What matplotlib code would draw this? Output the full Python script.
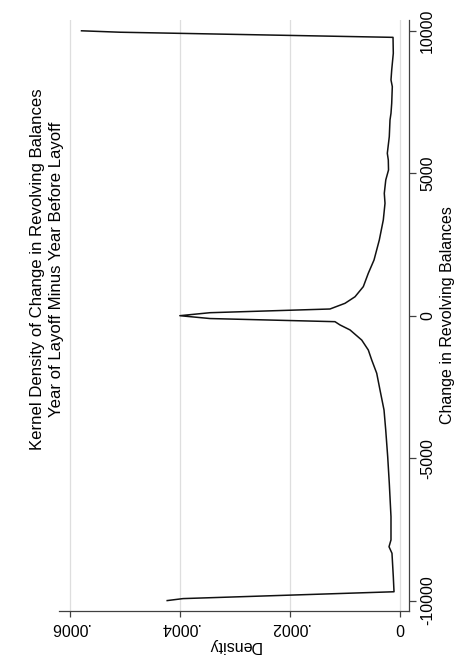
import matplotlib
matplotlib.use("Agg")
import matplotlib.pyplot as plt

# data (change in revolving balances, kernel density)
change = [-10000, -9930, -9690, -9160, -8340, -8110, -7870, -7055, -5880, -4950,
          -4010, -3310, -2610, -2020, -1555, -1205, -855, -500, -325, -210,
          -100, 0, 105, 235, 435, 665, 1020, 1490, 1955, 2655,
          3360, 3945, 4295, 4765, 5115, 5465, 5700, 6285, 6870, 7105,
          7455, 8040, 8275, 8625, 9210, 9770, 9950, 10000]
density_e5 = [42.3, 39.4, 1.0, 1.13, 1.37, 1.91, 1.55, 1.55, 1.86, 2.15,
              2.51, 2.82, 3.55, 4.15, 5.06, 5.68, 6.88, 9.01, 10.83, 11.75,
              34.5, 40.0, 34.5, 12.66, 9.92, 8.10, 6.59, 5.68, 4.64, 3.68,
              2.95, 2.64, 2.77, 2.5, 2.0, 2.04, 2.22, 1.86, 1.73, 1.55,
              1.42, 1.31, 1.55, 1.42, 1.13, 1.18, 50.9, 57.9]
density = [d * 1e-5 for d in density_e5]

density_ticks = [0, 0.0002, 0.0004, 0.0006]
density_labels = ["0", ".0002", ".0004", ".0006"]
change_ticks = [-10000, -5000, 0, 5000, 10000]
change_labels = ["-10000", "-5000", "0", "5000", "10000"]

title = "Kernel Density of Change in Revolving Balances\nYear of Layoff Minus Year Before Layoff"
xlab = "Density"
ylab = "Change in Revolving Balances"

plt.rcParams['font.family'] = ['Liberation Sans', 'DejaVu Sans']

W, H = 463, 667
fig = plt.figure(figsize=(W / 100, H / 100), dpi=100)
left, right, top, bottom = 59, 409.5, 20, 610.7
ax = fig.add_axes([left / W, 1 - bottom / H, (right - left) / W, (bottom - top) / H])

axcol = '#404040'
ax.plot(density, change, color='#111111', lw=1.1)

ax.set_xlim(0.00062, -0.0000182)
ax.set_ylim(-10355, 10379)

for s in ['left', 'top']:
    ax.spines[s].set_visible(False)
for s in ['bottom', 'right']:
    ax.spines[s].set_color(axcol)
    ax.spines[s].set_linewidth(0.9)

fs = 11.5
ax.set_xticks(density_ticks)
ax.set_xticklabels(density_labels, rotation=180, ha='center', va='top', fontsize=fs)
ax.yaxis.tick_right()
ax.yaxis.set_label_position('right')
ax.set_yticks(change_ticks)
ax.set_yticklabels(change_labels, rotation=90, va='center', ha='left', fontsize=fs)
ax.tick_params(axis='x', length=4, width=0.9, color=axcol, pad=3)
ax.tick_params(axis='y', length=5, width=0.9, color=axcol, pad=2.5)

ax.grid(axis='x', color='#dedede', lw=0.9)
ax.set_axisbelow(True)

ax.set_xlabel(xlab, rotation=180, fontsize=fs, labelpad=2)
ax.set_ylabel(ylab, rotation=90, fontsize=fs, labelpad=4)

fig.text(47 / W, 1 - 269 / H, title, rotation=90, ha='center', va='center',
         multialignment='center', fontsize=12.1, linespacing=1.3)

fig.savefig("out.png", dpi=100, facecolor='white')
